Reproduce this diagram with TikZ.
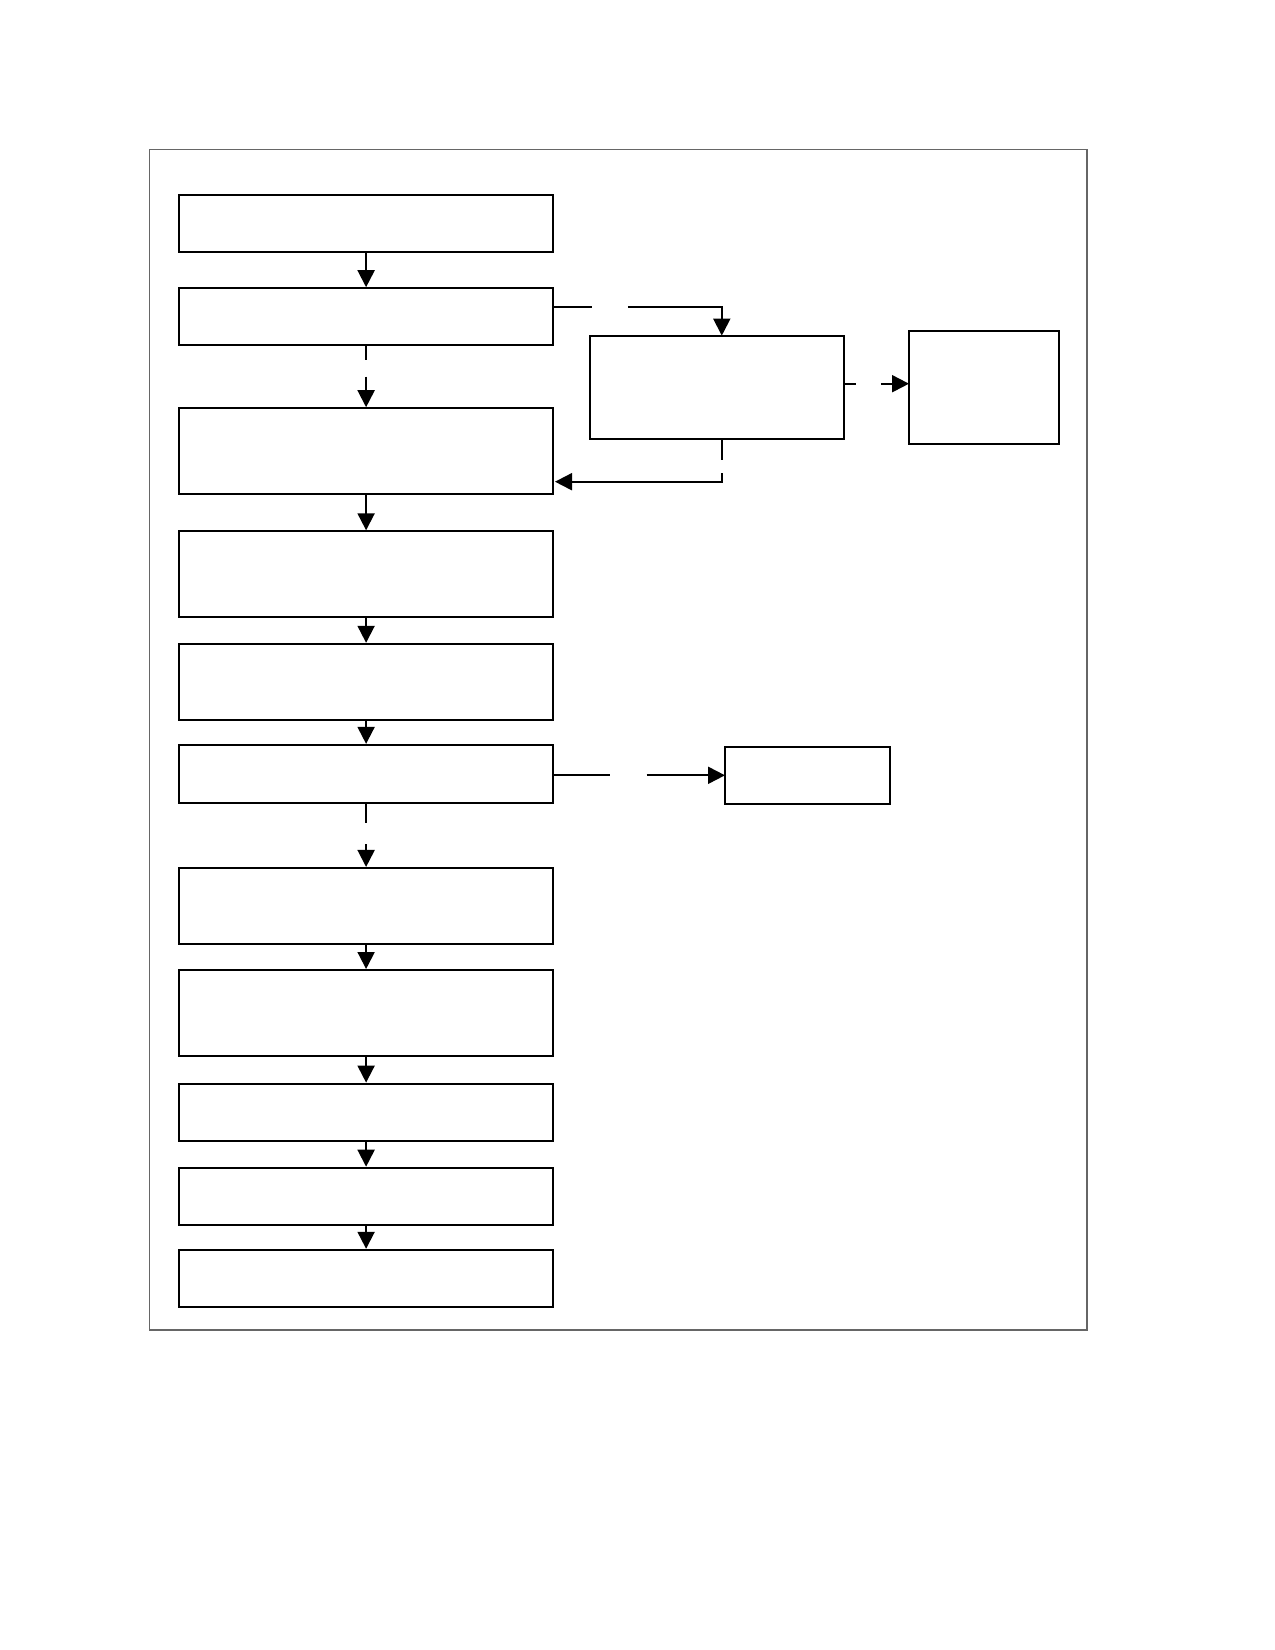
\documentclass[tikz,border=0pt]{standalone}
\usetikzlibrary{arrows.meta}
\begin{document}
\begin{tikzpicture}[x=1pt,y=-1pt,
  box/.style={draw=black,line width=2pt,inner sep=0pt,rectangle},
  conn/.style={draw=black,line width=2pt},
  arr/.style={conn,-{Triangle[length=17pt,width=17pt]}}]
\useasboundingbox (0,0) rectangle (1275,1650);
\draw[black!60,line width=1.2pt] (149.4,149.4) rectangle (1087,1330);
% main column
\node[box,minimum width=374.6pt,minimum height=57.9pt] (b1) at (366.1,223.5) {};
\node[box,minimum width=374.6pt,minimum height=56.8pt] (b2) at (366.1,316.6) {};
\node[box,minimum width=374.6pt,minimum height=86.2pt] (b3) at (366.1,451.3) {};
\node[box,minimum width=374.6pt,minimum height=85.2pt] (b4) at (366.1,573.9) {};
\node[box,minimum width=374.6pt,minimum height=75.8pt] (b5) at (366.1,681.7) {};
\node[box,minimum width=374.6pt,minimum height=57.9pt] (b6) at (366.1,773.8) {};
\node[box,minimum width=374.6pt,minimum height=75.7pt] (b7) at (366.1,905.8) {};
\node[box,minimum width=374.6pt,minimum height=86.2pt] (b8) at (366.1,1013.1) {};
\node[box,minimum width=374.6pt,minimum height=57.8pt] (b9) at (366.1,1112.5) {};
\node[box,minimum width=374.6pt,minimum height=56.8pt] (b10) at (366.1,1196.1) {};
\node[box,minimum width=374.6pt,minimum height=56.8pt] (b11) at (366.1,1278.2) {};
% side boxes
\node[box,minimum width=253.3pt,minimum height=103.4pt] (m) at (717,387.3) {};
\node[box,minimum width=149.5pt,minimum height=113.5pt] (r) at (983.8,387.3) {};
\node[box,minimum width=165.2pt,minimum height=57pt] (s) at (807.6,775.5) {};
% solid vertical arrows
\draw[arr] (b1.south) -- (b2.north);
\draw[arr] (b3.south) -- (b4.north);
\draw[arr] (b4.south) -- (b5.north);
\draw[arr] (b5.south) -- (b6.north);
\draw[arr] (b7.south) -- (b8.north);
\draw[arr] (b8.south) -- (b9.north);
\draw[arr] (b9.south) -- (b10.north);
\draw[arr] (b10.south) -- (b11.north);
% broken vertical arrows
\coordinate (g1a) at (366.1,360.3);
\coordinate (g1b) at (366.1,376.7);
\draw[conn] (b2.south) -- (g1a);
\draw[arr] (g1b) -- (b3.north);
\coordinate (g2a) at (366.1,823.3);
\coordinate (g2b) at (366.1,844.3);
\draw[conn] (b6.south) -- (g2a);
\draw[arr] (g2b) -- (b7.north);
% b2 -> m
\coordinate (p1) at (553.4,307.3);
\coordinate (p2) at (591.7,307.3);
\coordinate (p3) at (627.8,307.3);
\coordinate (p4) at (721.8,307.3);
\coordinate (p5) at (721.8,335.6);
\draw[conn] (p1) -- (p2);
\draw[arr] (p3) -- (p4) -- (p5);
% m -> r
\coordinate (q1) at (843.7,383.7);
\coordinate (q2) at (856.1,383.7);
\coordinate (q3) at (880.9,383.7);
\coordinate (q4) at (909,383.7);
\draw[conn] (q1) -- (q2);
\draw[arr] (q3) -- (q4);
% m -> b3
\coordinate (t1) at (721.8,439);
\coordinate (t2) at (721.8,460);
\coordinate (t3) at (721.8,473.3);
\coordinate (t4) at (721.8,481.7);
\coordinate (t5) at (555,481.7);
\draw[conn] (t1) -- (t2);
\draw[arr] (t3) -- (t4) -- (t5);
% b6 -> s
\coordinate (u1) at (553.4,775.3);
\coordinate (u2) at (610.2,775.3);
\coordinate (u3) at (646.5,775.3);
\coordinate (u4) at (725,775.3);
\draw[conn] (u1) -- (u2);
\draw[arr] (u3) -- (u4);
\end{tikzpicture}
\end{document}
